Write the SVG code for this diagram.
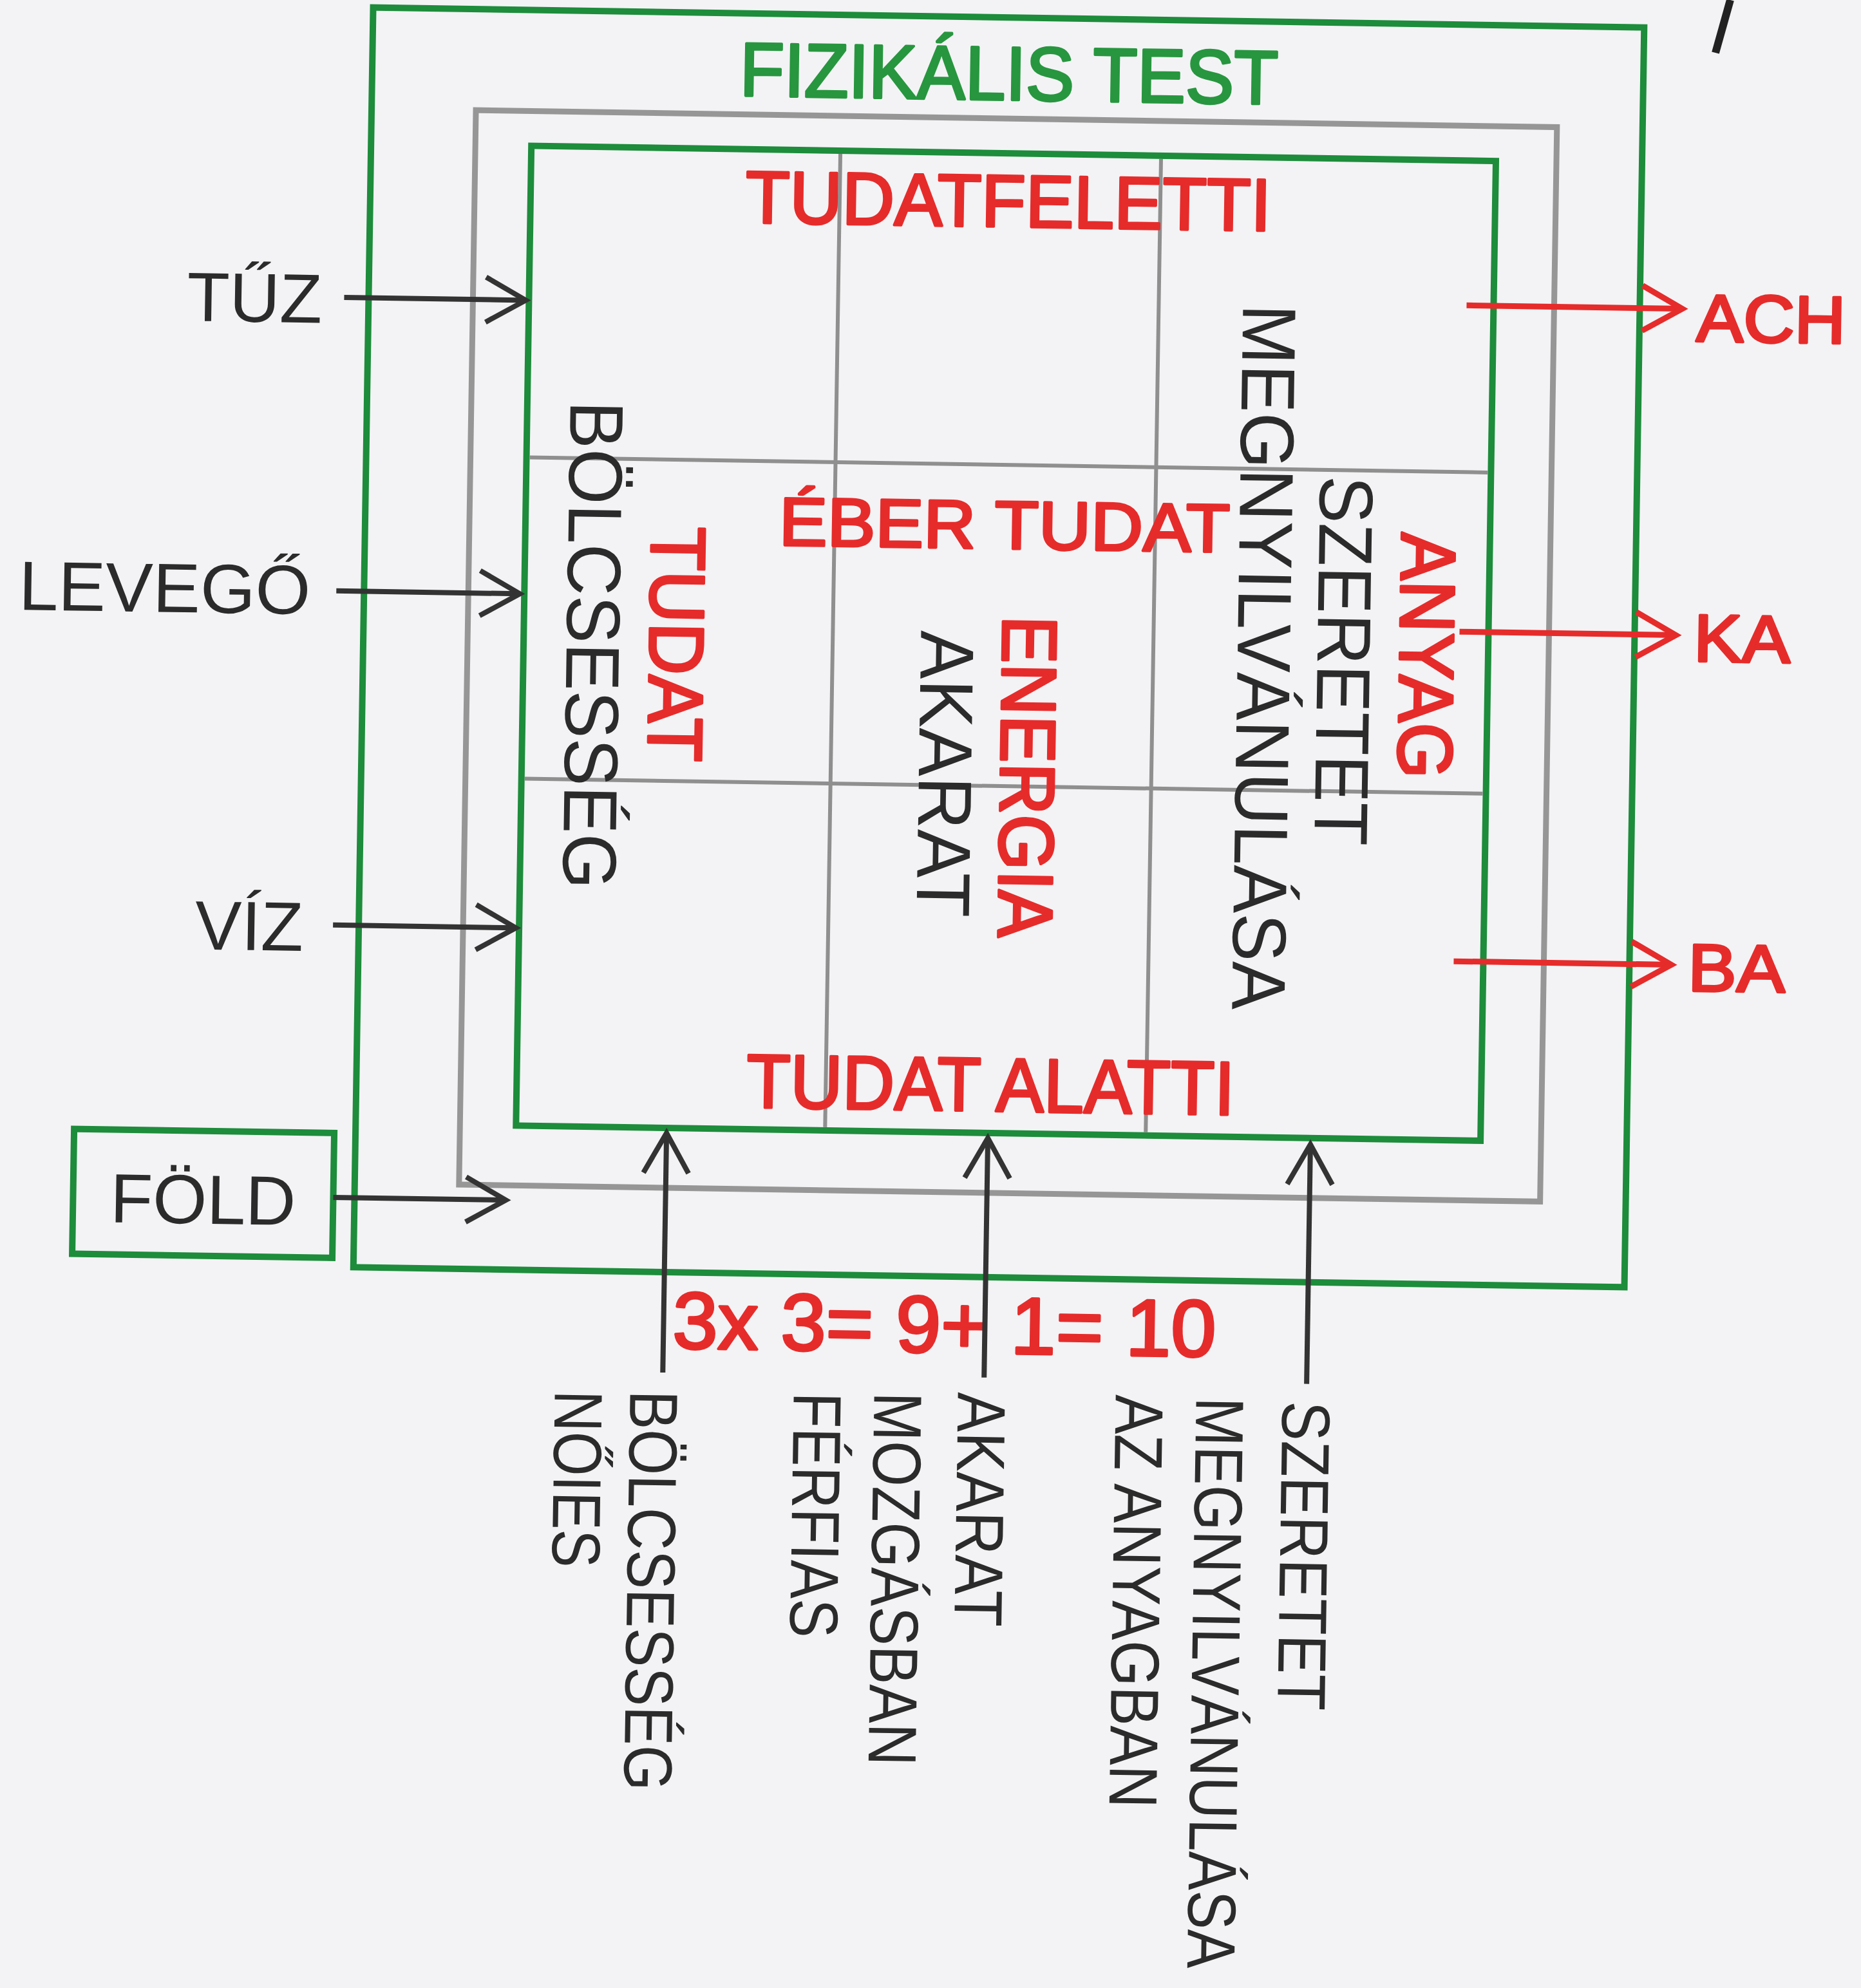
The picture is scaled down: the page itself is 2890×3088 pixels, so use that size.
<svg xmlns="http://www.w3.org/2000/svg" width="2890" height="3088" viewBox="0 0 2890 3088">
<defs>
<style>
.bg{fill:#f3f3f5}
.grn{fill:none;stroke:#1d8c3b;stroke-width:10}
.gry{fill:none;stroke:#969696;stroke-width:9}
.grid{stroke:#8f8f8f;stroke-width:6}
.ar{stroke:#333;stroke-width:8;fill:none}
.ar-r{stroke:#e62b2b;stroke-width:9;fill:none}
.t{font-family:"Liberation Sans",Arial,sans-serif}
.blk{fill:#2b2b2b}
.red{fill:#e62b2b;stroke:#e62b2b;stroke-width:4;stroke-linejoin:round}
.gtx{fill:#27963f;stroke:#27963f;stroke-width:4;stroke-linejoin:round}
</style>
<marker id="ah" markerUnits="userSpaceOnUse" markerWidth="80" markerHeight="90" refX="66" refY="40" orient="auto" overflow="visible">
<path d="M4,5 L66,40 L4,75" fill="none" stroke="#333" stroke-width="8"/>
</marker>
<marker id="ahr" markerUnits="userSpaceOnUse" markerWidth="80" markerHeight="90" refX="66" refY="40" orient="auto" overflow="visible">
<path d="M4,5 L66,40 L4,75" fill="none" stroke="#e62b2b" stroke-width="9"/>
</marker>
</defs>
<rect class="bg" x="0" y="0" width="2890" height="3088"/>
<line x1="2687" y1="0" x2="2664" y2="82" stroke="#222" stroke-width="12"/>
<g transform="rotate(0.9 1550 1008)">
<g id="fizikalis-test">
<rect class="grn" x="564" y="27" width="1974" height="1957"/>
<text class="t gtx" x="1553" y="155" font-size="118" text-anchor="middle" textLength="836" lengthAdjust="spacingAndGlyphs">FIZIKÁLIS TEST</text>
</g>
<g id="gray-frame">
<rect class="gry" x="726" y="184" width="1679" height="1669"/>
</g>
<g id="inner-grid">
<rect class="grn" x="813" y="238" width="1498" height="1522"/>
<line class="grid" x1="1293" y1="243" x2="1293" y2="1755"/>
<line class="grid" x1="1791" y1="243" x2="1791" y2="1755"/>
<line class="grid" x1="818" y1="722" x2="2306" y2="722"/>
<line class="grid" x1="818" y1="1221" x2="2306" y2="1221"/>
</g>
<g id="tudatfeletti"><text class="t red" x="1555" y="352" font-size="115" text-anchor="middle" textLength="816" lengthAdjust="spacingAndGlyphs">TUDATFELETTI</text></g>
<g id="eber-tudat"><text class="t red" x="1557" y="852" font-size="106" text-anchor="middle" textLength="700" lengthAdjust="spacingAndGlyphs">ÉBER TUDAT</text></g>
<g id="tudat-alatti"><text class="t red" x="1549" y="1726" font-size="118" text-anchor="middle" textLength="758" lengthAdjust="spacingAndGlyphs">TUDAT ALATTI</text></g>
<g id="grid-col1">
<text class="t blk" transform="translate(880,633) rotate(90)" font-size="118" textLength="758" lengthAdjust="spacingAndGlyphs">BÖLCSESSÉG</text>
<text class="t red" transform="translate(1009,826) rotate(90)" font-size="120" textLength="365" lengthAdjust="spacingAndGlyphs">TUDAT</text>
</g>
<g id="grid-col2">
<text class="t blk" transform="translate(1430,981) rotate(90)" font-size="118" textLength="445" lengthAdjust="spacingAndGlyphs">AKARAT</text>
<text class="t red" transform="translate(1557,956) rotate(90)" font-size="120" textLength="500" lengthAdjust="spacingAndGlyphs">ENERGIA</text>
</g>
<g id="grid-col3">
<text class="t blk" transform="translate(1922,466) rotate(90)" font-size="118" textLength="1096" lengthAdjust="spacingAndGlyphs">MEGNYILVÁNULÁSA</text>
<text class="t blk" transform="translate(2046,731) rotate(90)" font-size="118" textLength="574" lengthAdjust="spacingAndGlyphs">SZERETET</text>
<text class="t red" transform="translate(2174,817) rotate(90)" font-size="120" textLength="382" lengthAdjust="spacingAndGlyphs">ANYAG</text>
</g>
<g id="tuz"><text class="t blk" x="492" y="518" font-size="108" text-anchor="end">TŰZ</text></g>
<g id="levego"><text class="t blk" x="481" y="971" font-size="108" text-anchor="end" textLength="453" lengthAdjust="spacingAndGlyphs">LEVEGŐ</text></g>
<g id="viz"><text class="t blk" x="478" y="1494" font-size="108" text-anchor="end">VÍZ</text></g>
<g id="fold">
<rect class="grn" x="127" y="1776" width="404" height="194"/>
<text class="t blk" x="329" y="1920" font-size="108" text-anchor="middle">FÖLD</text>
</g>
<g id="ach"><text class="t red" x="2626" y="513" font-size="104" textLength="232" lengthAdjust="spacingAndGlyphs">ACH</text></g>
<g id="ka"><text class="t red" x="2630" y="1010" font-size="104" textLength="150" lengthAdjust="spacingAndGlyphs">KA</text></g>
<g id="ba"><text class="t red" x="2629" y="1522" font-size="104" textLength="151" lengthAdjust="spacingAndGlyphs">BA</text></g>
<g id="formula"><text class="t red" x="1483" y="2102" font-size="125" text-anchor="middle" textLength="844" lengthAdjust="spacingAndGlyphs">3x 3= 9+ 1= 10</text></g>
<g id="bottom-labels">
<text class="t blk" transform="translate(880,2170) rotate(90)" font-size="106" textLength="275" lengthAdjust="spacingAndGlyphs">NŐIES</text>
<text class="t blk" transform="translate(997,2168) rotate(90)" font-size="106" textLength="622" lengthAdjust="spacingAndGlyphs">BÖLCSESSÉG</text>
<text class="t blk" transform="translate(1251,2167) rotate(90)" font-size="106" textLength="381" lengthAdjust="spacingAndGlyphs">FÉRFIAS</text>
<text class="t blk" transform="translate(1376,2165) rotate(90)" font-size="106" textLength="580" lengthAdjust="spacingAndGlyphs">MOZGÁSBAN</text>
<text class="t blk" transform="translate(1506,2163) rotate(90)" font-size="106" textLength="364" lengthAdjust="spacingAndGlyphs">AKARAT</text>
<text class="t blk" transform="translate(1751,2163) rotate(90)" font-size="106" textLength="642" lengthAdjust="spacingAndGlyphs">AZ ANYAGBAN</text>
<text class="t blk" transform="translate(1876,2165) rotate(90) scale(0.8575,1)" font-size="106">MEGNYILVÁNULÁSA</text>
<text class="t blk" transform="translate(2010,2169) rotate(90)" font-size="106" textLength="480" lengthAdjust="spacingAndGlyphs">SZERETET</text>
</g>
<g id="connectors">
<line class="ar" x1="526" y1="478" x2="808" y2="478" marker-end="url(#ah)"/>
<line class="ar" x1="521" y1="934" x2="806" y2="934" marker-end="url(#ah)"/>
<line class="ar" x1="524" y1="1453" x2="808" y2="1453" marker-end="url(#ah)"/>
<line class="ar" x1="531" y1="1876" x2="799" y2="1876" marker-end="url(#ah)"/>
<line class="ar" x1="1047" y1="2140" x2="1047" y2="1768" marker-end="url(#ah)"/>
<line class="ar" x1="1546" y1="2140" x2="1546" y2="1768" marker-end="url(#ah)"/>
<line class="ar" x1="2047" y1="2142" x2="2047" y2="1770" marker-end="url(#ah)"/>
<line class="ar-r" x1="2269" y1="463" x2="2604" y2="463" marker-end="url(#ahr)"/>
<line class="ar-r" x1="2266" y1="970" x2="2602" y2="970" marker-end="url(#ahr)"/>
<line class="ar-r" x1="2265" y1="1482" x2="2603" y2="1482" marker-end="url(#ahr)"/>
</g>
</g>
</svg>
